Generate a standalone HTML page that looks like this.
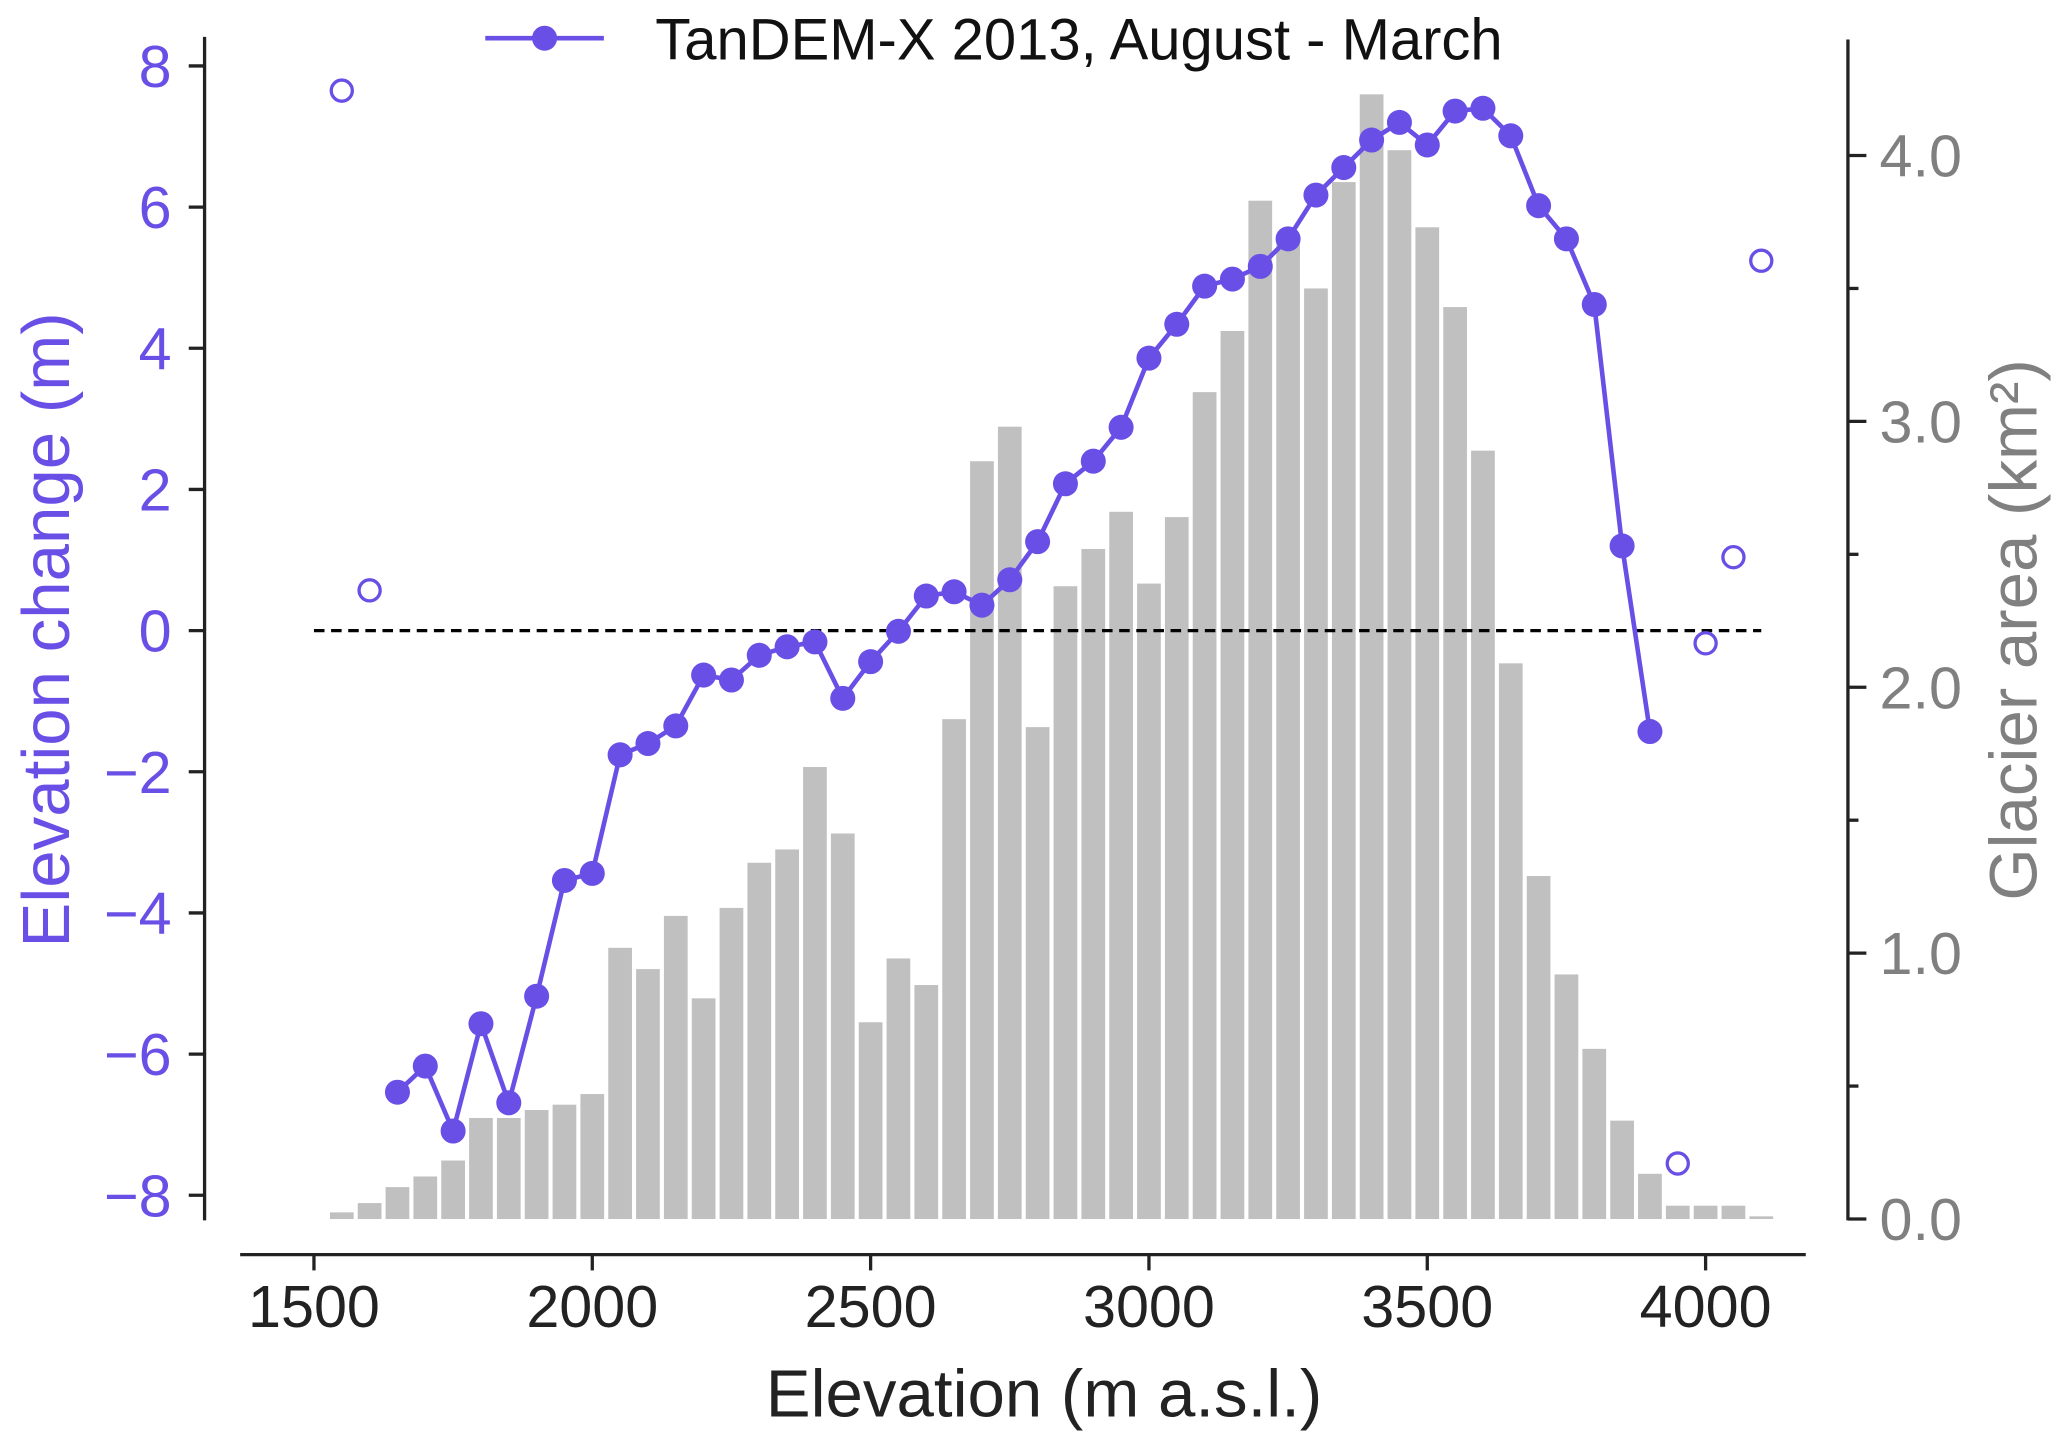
<!DOCTYPE html>
<html><head><meta charset="utf-8">
<style>html,body{margin:0;padding:0;background:#fff;}svg{display:block;font-family:"Liberation Sans",Arial,sans-serif;}</style>
</head><body>
<svg id="chart" width="2067" height="1447" viewBox="0 0 1568 1098" xmlns="http://www.w3.org/2000/svg">
<rect width="1568" height="1098" fill="#fff"/>
<g id="bars"></g><g id="zero"></g><g id="line"></g><g id="axes"></g>
</svg>
<script>
const barElev = [1550,1600,1650,1700,1750,1800,1850,1900,1950,2000,2050,2100,2150,2200,2250,2300,2350,2400,2450,2500,2550,2600,2650,2700,2750,2800,2850,2900,2950,3000,3050,3100,3150,3200,3250,3300,3350,3400,3450,3500,3550,3600,3650,3700,3750,3800,3850,3900,3950,4000,4050,4100];
const barArea = [0.025,0.06,0.12,0.16,0.22,0.38,0.38,0.41,0.43,0.47,1.02,0.94,1.14,0.83,1.17,1.34,1.39,1.70,1.45,0.74,0.98,0.88,1.88,2.85,2.98,1.85,2.38,2.52,2.66,2.39,2.64,3.11,3.34,3.83,3.67,3.50,3.90,4.23,4.02,3.73,3.43,2.89,2.09,1.29,0.92,0.64,0.37,0.17,0.05,0.05,0.05,0.01];
const lineElev = [1650,1700,1750,1800,1850,1900,1950,2000,2050,2100,2150,2200,2250,2300,2350,2400,2450,2500,2550,2600,2650,2700,2750,2800,2850,2900,2950,3000,3050,3100,3150,3200,3250,3300,3350,3400,3450,3500,3550,3600,3650,3700,3750,3800,3850,3900];
const lineDh = [-6.54,-6.17,-7.09,-5.57,-6.69,-5.18,-3.54,-3.44,-1.76,-1.60,-1.35,-0.63,-0.70,-0.35,-0.23,-0.16,-0.96,-0.44,-0.01,0.49,0.55,0.36,0.72,1.26,2.08,2.40,2.88,3.86,4.34,4.88,4.98,5.16,5.55,6.17,6.56,6.95,7.20,6.88,7.36,7.40,7.01,6.02,5.55,4.62,1.20,-1.43];
const openElev = [1550,1600,3950,4000,4050,4100];
const openDh = [7.65,0.57,-7.55,-0.18,1.04,5.24];
const xTicks = [1500,2000,2500,3000,3500,4000];
const yTicks = [-8,-6,-4,-2,0,2,4,6,8];
const y2Ticks = [0,0.5,1,1.5,2,2.5,3,3.5,4];

const NS="http://www.w3.org/2000/svg";
const X = v => 238 + (v-1500)*(1294-238)/2500;
const Y = v => 478.5 - v*53.56;
const Y2 = v => 925 - v*201.75;
const PURPLE="#6a4fe6";
function mk(tag, attrs, parent, text){const e=document.createElementNS(NS,tag);for(const k in attrs)e.setAttribute(k,attrs[k]);if(text!==undefined)e.textContent=text;parent.appendChild(e);return e;}
const gB=document.getElementById('bars'), gZ=document.getElementById('zero'), gL=document.getElementById('line'), gA=document.getElementById('axes');

barElev.forEach((e,i)=>{
  const w=18;
  const r=mk('rect',{x:X(e)-w/2,y:Y2(barArea[i]),width:w,height:Y2(0)-Y2(barArea[i]),fill:'#c0c0c0'},gB);
  
  
});
const z=mk('line',{x1:X(1500),x2:X(4100),y1:Y(0),y2:Y(0),stroke:'#000','stroke-width':2.5,'stroke-dasharray':'8,5'},gZ);



const pl=mk('polyline',{points:lineElev.map((e,i)=>X(e)+','+Y(lineDh[i])).join(' '),fill:'none',stroke:PURPLE,'stroke-width':3.5},gL);


lineElev.forEach((e,i)=>{
  const c=mk('circle',{cx:X(e),cy:Y(lineDh[i]),r:9.5,fill:PURPLE},gL);
  
  
});
openElev.forEach((e,i)=>{
  const c=mk('circle',{cx:X(e),cy:Y(openDh[i]),r:8,fill:'#fff',stroke:PURPLE,'stroke-width':2.5},gL);
  
  
});

mk('line',{x1:155,x2:155,y1:28,y2:926,stroke:'#222','stroke-width':2.5},gA);
mk('line',{x1:1402,x2:1402,y1:30,y2:926,stroke:'#222','stroke-width':2.5},gA);
mk('line',{x1:182,x2:1370,y1:952,y2:952,stroke:'#222','stroke-width':2.5},gA);
xTicks.forEach(t=>{
  mk('line',{x1:X(t),x2:X(t),y1:952,y2:964,stroke:'#222','stroke-width':2.5},gA);
  const tx=mk('text',{x:X(t),y:1007,'text-anchor':'middle','font-size':45,fill:'#222'},gA,String(t));
  
  
});
yTicks.forEach(t=>{
  mk('line',{x1:143,x2:155,y1:Y(t),y2:Y(t),stroke:'#222','stroke-width':2.5},gA);
  const tx=mk('text',{x:130,y:Y(t)+16,'text-anchor':'end','font-size':45,fill:PURPLE},gA,(t<0?'\u2212':'')+Math.abs(t));
  
  
});
y2Ticks.forEach(t=>{
  const major=Number.isInteger(t);
  mk('line',{x1:1402,x2:major?1416:1410,y1:Y2(t),y2:Y2(t),stroke:'#222','stroke-width':2.5},gA);
  if(major){
    const tx=mk('text',{x:1426,y:Y2(t)+16,'font-size':45,fill:'#808080'},gA,t.toFixed(1));
    
    
  }
});
</script>
<svg style="position:absolute;left:0;top:0" width="2067" height="1447" viewBox="0 0 1568 1098" xmlns="http://www.w3.org/2000/svg" font-family="Liberation Sans, Arial, sans-serif">
<text x="792" y="1075" text-anchor="middle" font-size="51" fill="#222">Elevation (m a.s.l.)</text>
<text transform="translate(52,478) rotate(-90)" text-anchor="middle" font-size="51" fill="#6a4fe6">Elevation change (m)</text>
<text transform="translate(1545,478) rotate(-90)" text-anchor="middle" font-size="51" fill="#808080">Glacier area (km²)</text>
<g>
<line x1="368" x2="458" y1="29" y2="29" stroke="#6a4fe6" stroke-width="3.5"/>
<circle cx="413" cy="29" r="9.5" fill="#6a4fe6"/>
<text x="497" y="45" font-size="44" fill="#111">TanDEM-X 2013, August - March</text>
</g>
</svg>
</body></html>
